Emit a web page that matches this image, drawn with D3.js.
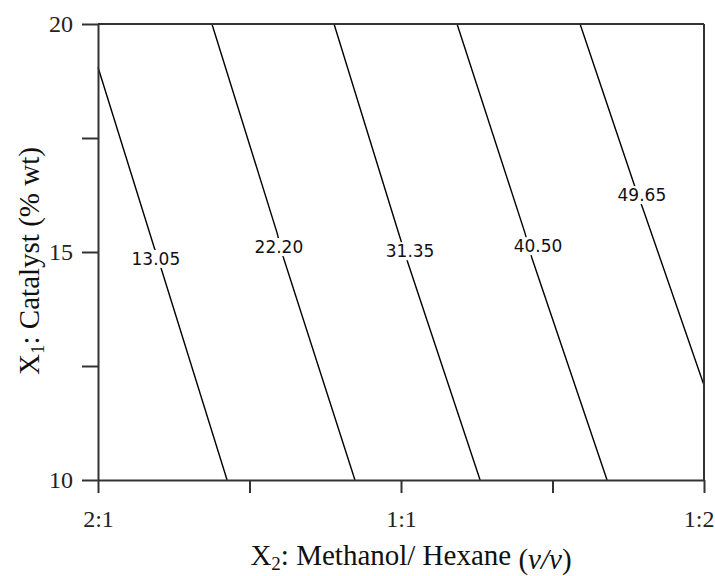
<!DOCTYPE html>
<html>
<head>
<meta charset="utf-8">
<script src="https://cdn.jsdelivr.net/npm/d3@7"></script>
<style>
  body { margin: 0; background: #fff; }
  .tick text { font-family: 'Liberation Serif', serif; font-size: 24px; fill: #222; }
  .contour-label { font-family: 'DejaVu Sans', sans-serif; font-size: 17px; fill: #111; }
  .axis-title { font-family: 'Liberation Serif', serif; font-size: 29px; fill: #111; }
</style>
</head>
<body>
<div id="chart"></div>
<script>
// x: methanol/hexane ratio position (0 = 2:1, 1 = 1:1, 2 = 1:2), y: catalyst % wt
const xTicks = [0, 0.5, 1, 1.5, 2]
const xTickLabels = ['2:1', '', '1:1', '', '1:2']
const yTicks = [10, 12.5, 15, 17.5, 20]
const yTickLabels = ['10', '', '15', '', '20']

const levels = ['13.05', '22.20', '31.35', '40.50', '49.65']
const line1305 = [[0, 19.05], [0.185, 15.11], [0.208, 14.65], [0.426, 10]]
const line2220 = [[0.376, 20], [0.591, 15.42], [0.607, 14.98], [0.848, 10]]
const line3135 = [[0.779, 20], [0.99, 15.46], [1.023, 14.76], [1.261, 10]]
const line4050 = [[1.185, 20], [1.409, 15.42], [1.432, 14.87], [1.68, 10]]
const line4965 = [[1.591, 20], [1.772, 16.43], [1.799, 15.94], [2, 12.08]]
const labelX = [0.191, 0.597, 1.03, 1.452, 1.795]
const labelY = [14.85, 15.11, 15.02, 15.13, 16.25]

const w = 715
const h = 576
const pLeft = 98, pRight = 704, pTop = 24, pBottom = 480

const xScale = d3.scaleLinear().domain([0, 2]).range([pLeft, pRight])
const yScale = d3.scaleLinear().domain([10, 20]).range([pBottom, pTop])

const svg = d3.select('#chart').append('svg').attr('width', w).attr('height', h)

const lines = [line1305, line2220, line3135, line4050, line4965]
const lineGen = d3.line().x((d) => xScale(d[0])).y((d) => yScale(d[1]))

svg.append('g')
  .selectAll('path')
  .data(lines)
  .join('path')
  .attr('d', lineGen)
  .attr('fill', 'none')
  .attr('stroke', '#000')
  .attr('stroke-width', 1.4)

// contour labels, with a white patch to break the line
const labels = svg.append('g')
levels.forEach((lv, i) => {
  const g = labels.append('g')
    .attr('transform', 'translate(' + xScale(labelX[i]) + ',' + yScale(labelY[i]) + ')')
  const rect = g.append('rect').attr('fill', '#fff')
  const t = g.append('text')
    .attr('class', 'contour-label')
    .attr('text-anchor', 'middle')
    .attr('dy', '0.36em')
    .text(lv)
  const bb = t.node().getBBox()
  rect.attr('x', bb.x).attr('y', bb.y + 1).attr('width', bb.width).attr('height', bb.height - 2)
})

// axes
const xAxis = d3.axisBottom(xScale)
  .tickValues(xTicks)
  .tickFormat((d, i) => xTickLabels[i])
  .tickSize(13)
  .tickSizeOuter(0)
  .tickPadding(17)
const yAxis = d3.axisLeft(yScale)
  .tickValues(yTicks)
  .tickFormat((d, i) => yTickLabels[i])
  .tickSize(16)
  .tickSizeOuter(0)
  .tickPadding(9)

const gx = svg.append('g')
  .attr('transform', 'translate(0,' + pBottom + ')')
  .call(xAxis)
// last label sits against the right edge
gx.selectAll('.tick text')
  .filter((d) => d === 2)
  .attr('text-anchor', 'end')
  .attr('x', 10)

svg.append('g')
  .attr('transform', 'translate(' + pLeft + ',0)')
  .call(yAxis)

svg.selectAll('.domain, .tick line')
  .attr('stroke', '#333')
  .attr('stroke-width', 2)

// top and right frame
svg.append('line')
  .attr('x1', pLeft).attr('x2', pRight).attr('y1', pTop).attr('y2', pTop)
  .attr('stroke', '#333').attr('stroke-width', 2)
svg.append('line')
  .attr('x1', pRight).attr('x2', pRight).attr('y1', pTop).attr('y2', pBottom)
  .attr('stroke', '#333').attr('stroke-width', 2)

// x axis title
const xt = svg.append('text')
  .attr('class', 'axis-title')
  .attr('x', 411)
  .attr('y', 565)
  .attr('text-anchor', 'middle')
xt.append('tspan').text('X')
xt.append('tspan').attr('font-size', '19px').attr('dy', 5).text('2')
xt.append('tspan').attr('dy', -5).text(': Methanol/ Hexane ')
xt.append('tspan').attr('dy', 4).text('(')
xt.append('tspan').attr('font-style', 'italic').text('v/v')
xt.append('tspan').text(')')

// y axis title
const yt = svg.append('text')
  .attr('class', 'axis-title')
  .attr('transform', 'translate(39,261) rotate(-90)')
  .attr('text-anchor', 'middle')
yt.append('tspan').text('X')
yt.append('tspan').attr('font-size', '19px').attr('dy', 5).text('1')
yt.append('tspan').attr('dy', -5).text(': Catalyst (% wt)')
</script>
</body>
</html>
